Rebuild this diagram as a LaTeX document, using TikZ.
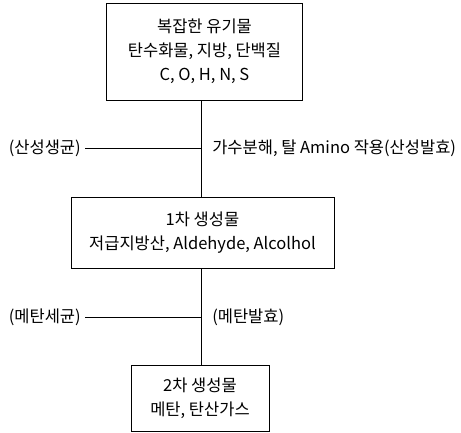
\documentclass[tikz,border=0pt]{standalone}
\usepackage{fontspec}
\setmainfont{Noto Sans CJK KR}
\begin{document}
\begin{tikzpicture}[x=1pt,y=1pt,line width=.6pt]

      \useasboundingbox (0,0) rectangle (461,-432);

      \begin{scope}[every node/.style={draw, align=center, inner sep=0pt,
          font=\fontsize{16.5}{24}\selectfont}]
        \node[minimum width=196, minimum height=97] (raw) at (204.5,-51.5)
          {복잡한 유기물\\탄수화물, 지방, 단백질\\C, O, H, N, S};
        \node[minimum width=263, minimum height=71] (first) at (202.5,-232.5)
          {1차 생성물\\저급지방산, Aldehyde, Alcolhol};
        \node[minimum width=138, minimum height=66] (second) at (200,-398)
          {2차 생성물\\메탄, 탄산가스};
      \end{scope}

      \coordinate (j1) at (201,-148);
      \coordinate (j2) at (201,-317);

      \begin{scope}[every node/.style={font=\fontsize{16.5}{18}\selectfont, inner sep=0pt}]
        \node[anchor=east] (acidbac) at (81,-148) {(산성생균)};
        \node[anchor=west] (acidfer) at (212,-148) {가수분해, 탈 Amino 작용(산성발효)};
        \node[anchor=east] (methbac) at (81,-317) {(메탄세균)};
        \node[anchor=west] (methfer) at (212,-317) {(메탄발효)};
      \end{scope}

      \draw (raw.south -| j1) -- (first.north -| j1);
      \draw ([xshift=4pt]acidbac.east) -- (j1);
      \draw (first.south -| j2) -- (second.north -| j2);
      \draw ([xshift=4pt]methbac.east) -- (j2);

    \end{tikzpicture}
\end{document}
